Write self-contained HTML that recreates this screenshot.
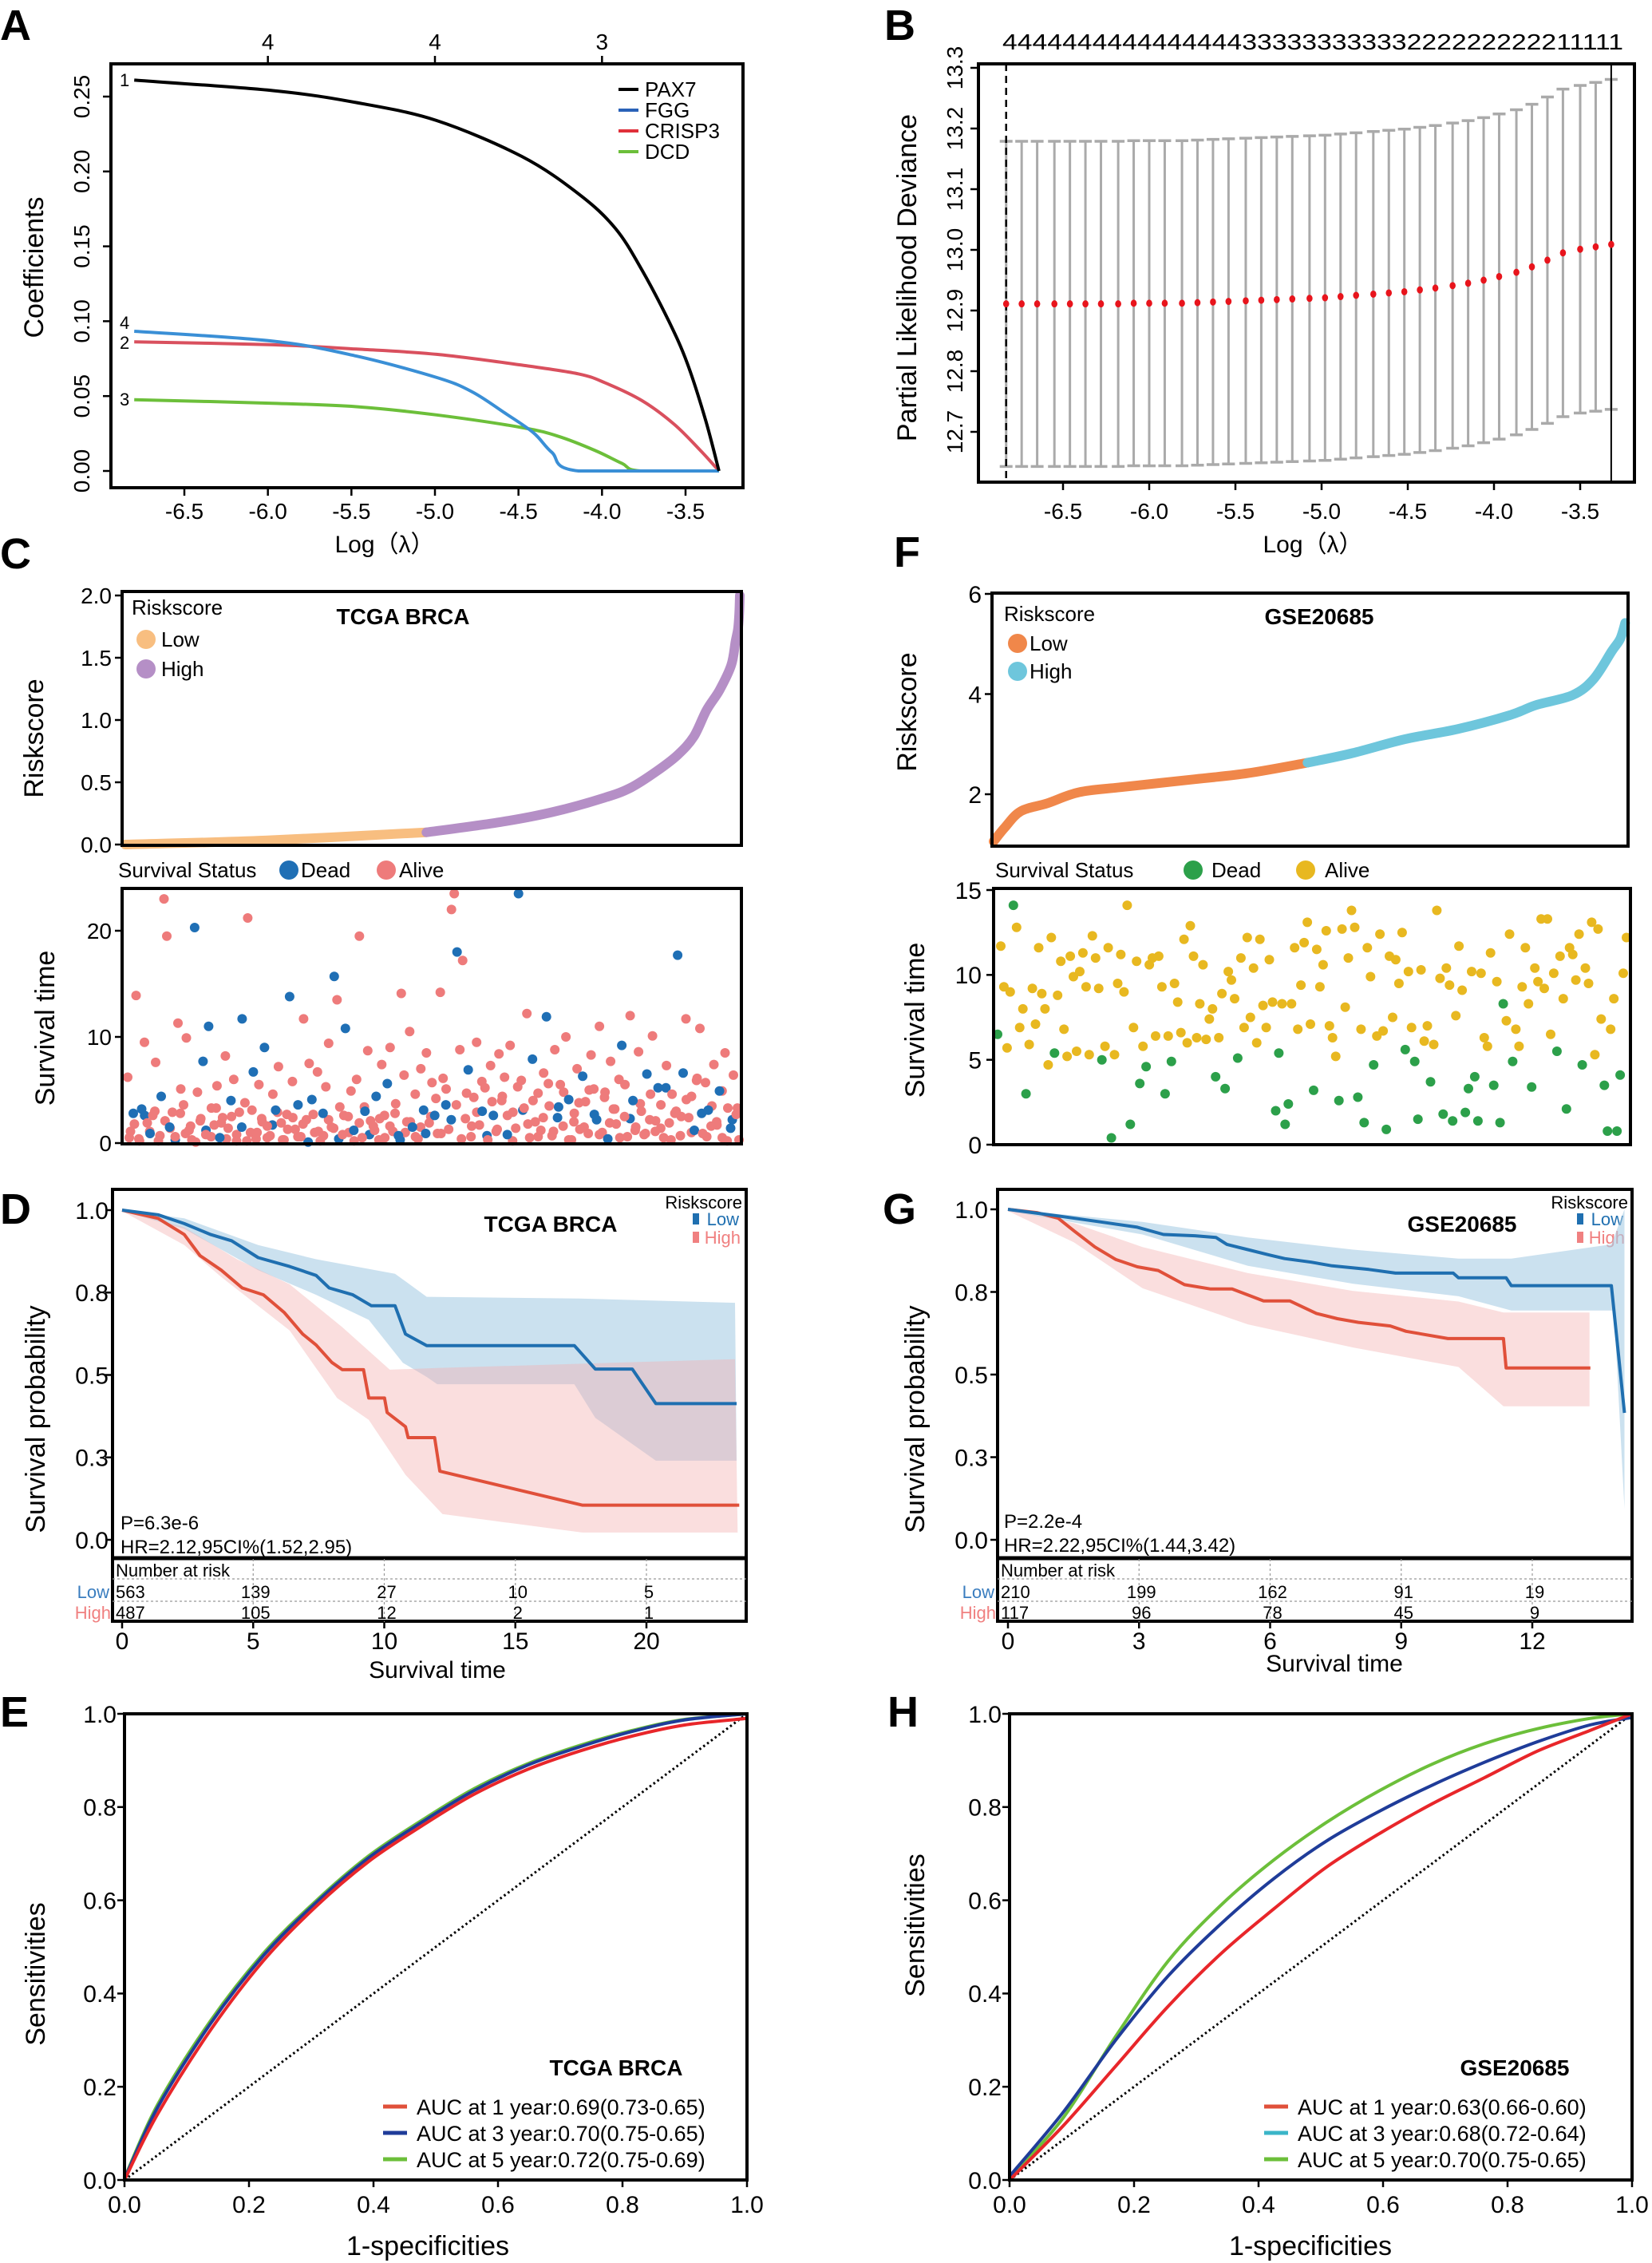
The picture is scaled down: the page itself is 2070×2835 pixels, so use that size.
<!DOCTYPE html>
<html><head><meta charset="utf-8">
<style>
html,body{margin:0;padding:0;background:#fff;}
svg{display:block;font-family:"Liberation Sans",Arial,sans-serif;}
</style></head>
<body>
<svg id="fig" xmlns="http://www.w3.org/2000/svg" width="2070" height="2835" viewBox="0 0 2070 2835">
<rect x="0" y="0" width="2070" height="2835" fill="#fff"/>
<text x="0" y="50" font-size="54" font-weight="bold">A</text>
<text x="1108" y="50" font-size="54" font-weight="bold">B</text>
<text x="0" y="712" font-size="54" font-weight="bold">C</text>
<text x="1120" y="710" font-size="54" font-weight="bold">F</text>
<text x="0" y="1533" font-size="54" font-weight="bold">D</text>
<text x="1106" y="1533" font-size="54" font-weight="bold">G</text>
<text x="0" y="2163" font-size="54" font-weight="bold">E</text>
<text x="1112" y="2163" font-size="54" font-weight="bold">H</text>

<text transform="translate(54,335) rotate(-90)" text-anchor="middle" font-size="34">Coefficients</text>
<text x="482" y="692" text-anchor="middle" font-size="30">Log（λ）</text>
<g font-size="26">
<line x1="775" y1="112" x2="800" y2="112" stroke="#000" stroke-width="4"/>
<text x="808" y="121">PAX7</text>
<line x1="775" y1="138" x2="800" y2="138" stroke="#2a62b8" stroke-width="4"/>
<text x="808" y="147">FGG</text>
<line x1="775" y1="164" x2="800" y2="164" stroke="#e0303a" stroke-width="4"/>
<text x="808" y="173">CRISP3</text>
<line x1="775" y1="190" x2="800" y2="190" stroke="#6cbf3a" stroke-width="4"/>
<text x="808" y="199">DCD</text>
</g>
<g font-size="22">
<text x="150" y="108">1</text>
<text x="150" y="412">4</text>
<text x="150" y="437">2</text>
<text x="150" y="508">3</text>
</g>

<text transform="translate(1148,348) rotate(-90)" text-anchor="middle" font-size="34">Partial Likelihood Deviance</text>
<text x="1645" y="692" text-anchor="middle" font-size="30">Log（λ）</text>
<text x="1256" y="62" font-size="28" textLength="778" lengthAdjust="spacingAndGlyphs">444444444444444433333333333222222222211111</text>

<text transform="translate(54,925) rotate(-90)" text-anchor="middle" font-size="34">Riskscore</text>
<text transform="translate(68,1288) rotate(-90)" text-anchor="middle" font-size="34">Survival time</text>
<text x="505" y="782" text-anchor="middle" font-size="28" font-weight="bold">TCGA BRCA</text>
<text x="165" y="770" font-size="26">Riskscore</text>
<circle cx="183" cy="801" r="12" fill="#f8be80"/>
<text x="202" y="810" font-size="26">Low</text>
<circle cx="183" cy="838" r="12" fill="#b58fc6"/>
<text x="202" y="847" font-size="26">High</text>
<text x="148" y="1099" font-size="26">Survival Status</text>
<circle cx="362" cy="1090" r="12" fill="#1f6fb5"/>
<text x="377" y="1099" font-size="26">Dead</text>
<circle cx="484" cy="1090" r="12" fill="#ee7b7b"/>
<text x="500" y="1099" font-size="26">Alive</text>

<text transform="translate(1148,892) rotate(-90)" text-anchor="middle" font-size="34">Riskscore</text>
<text transform="translate(1158,1278) rotate(-90)" text-anchor="middle" font-size="34">Survival time</text>
<text x="1653" y="782" text-anchor="middle" font-size="28" font-weight="bold">GSE20685</text>
<text x="1258" y="778" font-size="26">Riskscore</text>
<circle cx="1275" cy="806" r="12" fill="#f0874a"/>
<text x="1290" y="815" font-size="26">Low</text>
<circle cx="1275" cy="841" r="12" fill="#6ec6dc"/>
<text x="1290" y="850" font-size="26">High</text>
<text x="1247" y="1099" font-size="26">Survival Status</text>
<circle cx="1495" cy="1090" r="12" fill="#2ca04a"/>
<text x="1518" y="1099" font-size="26">Dead</text>
<circle cx="1636" cy="1090" r="12" fill="#e8b820"/>
<text x="1660" y="1099" font-size="26">Alive</text>

<text transform="translate(56,1778) rotate(-90)" text-anchor="middle" font-size="34">Survival probability</text>
<text x="690" y="1543" text-anchor="middle" font-size="28" font-weight="bold">TCGA BRCA</text>
<text x="930" y="1514" text-anchor="end" font-size="22">Riskscore</text>
<rect x="868" y="1520" width="8" height="14" fill="#1f6fb0"/>
<text x="926" y="1535" text-anchor="end" font-size="22" fill="#1f6fb0">Low</text>
<rect x="868" y="1543" width="8" height="14" fill="#f08080"/>
<text x="928" y="1558" text-anchor="end" font-size="22" fill="#f08080">High</text>
<text x="151" y="1916" font-size="24">P=6.3e-6</text>
<text x="151" y="1946" font-size="24">HR=2.12,95CI%(1.52,2.95)</text>
<text x="145" y="1975" font-size="22">Number at risk</text>
<text x="137" y="2002" text-anchor="end" font-size="22" fill="#3a7dbf">Low</text>
<text x="139" y="2028" text-anchor="end" font-size="22" fill="#f08080">High</text>
<text x="548" y="2102" text-anchor="middle" font-size="30">Survival time</text>

<text transform="translate(1158,1778) rotate(-90)" text-anchor="middle" font-size="34">Survival probability</text>
<text x="1832" y="1543" text-anchor="middle" font-size="28" font-weight="bold">GSE20685</text>
<text x="2040" y="1514" text-anchor="end" font-size="22">Riskscore</text>
<rect x="1976" y="1520" width="8" height="14" fill="#1f6fb0"/>
<text x="2034" y="1535" text-anchor="end" font-size="22" fill="#1f6fb0">Low</text>
<rect x="1976" y="1543" width="8" height="14" fill="#f08080"/>
<text x="2036" y="1558" text-anchor="end" font-size="22" fill="#f08080">High</text>
<text x="1258" y="1914" font-size="24">P=2.2e-4</text>
<text x="1258" y="1944" font-size="24">HR=2.22,95CI%(1.44,3.42)</text>
<text x="1254" y="1975" font-size="22">Number at risk</text>
<text x="1246" y="2002" text-anchor="end" font-size="22" fill="#3a7dbf">Low</text>
<text x="1248" y="2028" text-anchor="end" font-size="22" fill="#f08080">High</text>
<text x="1672" y="2094" text-anchor="middle" font-size="30">Survival time</text>

<text transform="translate(56,2473) rotate(-90)" text-anchor="middle" font-size="34">Sensitivities</text>
<text x="536" y="2825" text-anchor="middle" font-size="34">1-specificities</text>
<text x="772" y="2600" text-anchor="middle" font-size="28" font-weight="bold">TCGA BRCA</text>
<text transform="translate(1158,2412) rotate(-90)" text-anchor="middle" font-size="34">Sensitivities</text>
<text x="1642" y="2825" text-anchor="middle" font-size="34">1-specificities</text>
<text x="1898" y="2600" text-anchor="middle" font-size="28" font-weight="bold">GSE20685</text>
</svg>

<script>
const aPax7Lam = [-6.80,-5.97,-5.47,-4.99,-4.48,-4.14,-3.92,-3.76,-3.60,-3.49,-3.38,-3.30];
const aPax7Coef = [0.261,0.254,0.246,0.234,0.210,0.185,0.162,0.134,0.100,0.072,0.034,0.0];
const aFggLam = [-6.80,-5.97,-5.47,-4.99,-4.78,-4.58,-4.41,-4.30,-4.14,-3.30];
const aFggCoef = [0.0933,0.0867,0.0767,0.0624,0.053,0.0386,0.0255,0.0124,0.0,0.0];
const aCrispLam = [-6.80,-5.97,-5.47,-4.99,-4.48,-4.14,-3.98,-3.76,-3.57,-3.41,-3.30];
const aCrispCoef = [0.0862,0.0843,0.0814,0.0779,0.0707,0.0648,0.0588,0.0469,0.0314,0.0136,0.0];
const aDcdLam = [-6.80,-5.97,-5.47,-4.99,-4.48,-4.26,-4.04,-3.88,-3.77,-3.30];
const aDcdCoef = [0.0476,0.0452,0.0429,0.0374,0.029,0.0231,0.0136,0.005,0.0,0.0];
const aXTicks = [-6.5,-6.0,-5.5,-5.0,-4.5,-4.0,-3.5];
const aXTickLabels = ['-6.5','-6.0','-5.5','-5.0','-4.5','-4.0','-3.5'];
const aYTicks = [0,0.05,0.10,0.15,0.20,0.25];
const aYTickLabels = ['0.00','0.05','0.10','0.15','0.20','0.25'];
const aTopTicks = [-6.0,-5.0,-4.0];
const aTopLabels = ['4','4','3'];

const bLambda = [-6.83,-6.74,-6.65,-6.55,-6.46,-6.37,-6.28,-6.18,-6.09,-6.00,-5.91,-5.81,-5.72,-5.63,-5.54,-5.44,-5.35,-5.26,-5.17,-5.07,-4.98,-4.89,-4.80,-4.70,-4.61,-4.52,-4.43,-4.34,-4.24,-4.15,-4.06,-3.97,-3.87,-3.78,-3.69,-3.60,-3.50,-3.41,-3.32];
const bMean = [12.911,12.911,12.911,12.911,12.911,12.911,12.911,12.911,12.912,12.912,12.912,12.912,12.913,12.914,12.915,12.916,12.917,12.918,12.919,12.920,12.921,12.923,12.925,12.927,12.929,12.931,12.934,12.937,12.941,12.945,12.950,12.956,12.963,12.972,12.983,12.995,13.001,13.005,13.009];
const bSE = [0.268,0.268,0.268,0.268,0.268,0.268,0.268,0.268,0.268,0.268,0.268,0.268,0.268,0.268,0.268,0.268,0.268,0.268,0.268,0.268,0.268,0.268,0.268,0.268,0.268,0.268,0.268,0.268,0.268,0.268,0.268,0.268,0.268,0.268,0.269,0.270,0.270,0.271,0.272];
const bLambdaMin = -6.83;
const bLambda1se = -3.32;
const bXTicks = [-6.5,-6.0,-5.5,-5.0,-4.5,-4.0,-3.5];
const bXTickLabels = ['-6.5','-6.0','-5.5','-5.0','-4.5','-4.0','-3.5'];
const bYTicks = [12.7,12.8,12.9,13.0,13.1,13.2,13.3];
const bYTickLabels = ['12.7','12.8','12.9','13.0','13.1','13.2','13.3'];

const cRank = [0,0.228,0.49,0.61,0.695,0.78,0.823,0.865,0.899,0.925,0.946,0.967,0.986,0.993,0.997,0.999,1.0];
const cScore = [0,0.033,0.098,0.18,0.26,0.376,0.458,0.59,0.72,0.866,1.08,1.24,1.44,1.63,1.73,1.85,2.0];
const cCutRank = 0.49;
const cRiskTicks = [0,0.5,1.0,1.5,2.0];
const cRiskTickLabels = ['0.0','0.5','1.0','1.5','2.0'];
const cTimes = [6.2,1.1,2.8,13.9,0.4,3.2,9.5,1.9,0.9,2.6,7.6,0.2,4.4,23.0,19.5,1.5,2.9,0.6,11.3,5.1,
3.6,9.9,1.2,0.3,20.3,4.8,2.1,7.7,0.8,11.0,3.3,1.7,5.4,0.5,2.4,8.2,1.4,4.0,6.0,0.2,
2.9,11.7,3.8,21.2,1.0,6.7,0.4,5.5,2.3,9.0,1.6,0.7,4.6,3.1,7.2,1.9,0.3,2.7,13.8,5.8,
1.3,3.6,0.6,11.7,2.2,7.5,4.1,1.0,6.7,0.2,2.8,5.3,9.4,1.5,15.7,13.5,3.4,0.8,10.8,2.5,
4.9,1.2,6.0,19.5,0.5,3.0,8.7,2.1,1.6,4.4,0.3,7.4,2.6,5.6,9.0,1.1,3.7,0.7,14.1,6.4,
2.0,10.5,1.5,4.6,0.4,7.0,3.1,8.5,1.9,5.7,2.6,0.9,14.2,6.1,3.6,1.3,22.0,23.5,18.0,8.8,
17.2,2.3,6.9,0.6,4.3,9.5,1.7,3.0,5.2,0.3,7.3,2.6,1.1,8.4,4.0,6.2,0.8,9.2,2.9,1.4,
23.5,5.9,3.3,12.2,0.5,7.9,2.0,4.7,1.2,6.6,11.9,3.5,0.7,8.8,2.4,5.5,1.6,10.0,4.1,0.3,
2.8,7.0,1.3,6.3,3.9,0.9,8.3,5.1,2.2,11.0,1.0,4.8,0.4,7.7,3.2,1.8,6.0,9.2,2.5,0.6,
12.0,4.0,1.5,8.6,3.0,0.8,6.5,2.2,10.1,1.1,5.2,3.6,0.5,7.3,1.9,4.6,2.8,17.7,0.7,6.6,
11.7,2.4,4.4,1.2,6.1,10.8,0.9,5.7,3.1,1.6,7.4,2.0,4.9,0.5,8.5,3.3,1.4,6.4,2.7,0.3];
const cDead = [2,5,8,12,15,24,27,29,33,37,41,45,49,53,58,61,66,70,74,78,81,85,89,93,97,102,106,110,114,118,122,127,131,136,140,145,150,154,158,163,168,172,177,181,186,190,197,199,203,208,212,216];
const cBandTimes = [0.5,1.8,0.2,2.6,1.1,3.0,0.7,2.1,1.4,0.3,2.8,0.9,1.6,0.1,2.3,1.2,0.6,3.3,1.9,0.4,
2.5,0.8,1.5,0.2,3.1,1.0,2.0,0.5,1.7,2.9,0.3,1.3,2.4,0.6,1.8,0.1,2.7,1.1,0.7,2.2,
1.4,0.4,2.6,1.0,0.2,1.9,3.4,0.8,1.2,2.3,0.5,1.6,2.8,0.3,1.0,2.0,0.6,1.5,0.9,2.5,
4.2,0.9,5.1,2.2,3.6,0.4,4.7,1.6,2.9,5.8,0.7,3.9,1.3,4.4,2.6,0.2,5.3,3.1,1.8,4.0,
0.6,2.4,5.6,1.1,3.4,4.8,0.3,2.0,3.8,1.5,5.0,2.7,0.8,4.3,1.9,3.2,0.5,5.5,2.3,1.2,
3.7,0.9,4.6,2.1,1.4,5.2,0.3,3.0,2.5,4.1,1.0,5.9,2.8,0.6,3.5,1.7,4.9,0.2,2.2,3.3];
const cBandDead = [3,9,15,22,28,35,41,47,53,58,63,70,77,84,91,98,105,112,118];
const cSurvTicks = [0,10,20];
const cSurvTickLabels = ['0','10','20'];

const fRank = [0,0.018,0.043,0.085,0.135,0.201,0.318,0.402,0.496,0.567,0.65,0.733,0.816,0.857,0.915,0.948,0.977,0.99,0.998];
const fScore = [1.06,1.34,1.66,1.82,2.04,2.14,2.30,2.42,2.63,2.82,3.10,3.30,3.58,3.78,3.98,4.30,4.86,5.10,5.42];
const fCutRank = 0.496;
const fRiskTicks = [2,4,6];
const fRiskTickLabels = ['2','4','6'];
const fTimes = [6.5,11.7,9.3,5.7,9.0,14.1,12.8,6.9,8.0,3.0,5.9,9.2,7.1,11.6,8.9,8.0,4.7,12.2,5.4,8.8,
10.8,6.8,5.2,11.1,9.9,5.5,10.2,11.3,9.3,5.3,12.3,11.0,9.2,5.0,5.8,11.6,0.4,5.3,9.5,11.2,
9.0,14.1,1.2,6.9,10.8,3.6,5.8,4.6,10.6,11.0,6.4,11.1,9.3,3.0,6.4,4.9,9.5,8.4,6.6,12.1,
6.0,12.9,11.1,6.3,8.3,10.6,6.2,7.4,8.0,4.0,6.3,8.9,3.3,10.2,9.7,8.6,5.1,11.0,6.9,12.2,
7.5,10.4,6.0,12.1,8.2,6.9,10.9,8.4,2.0,5.4,8.3,1.2,2.4,8.3,11.6,6.8,9.4,11.9,13.1,7.1,
3.2,11.5,9.3,10.6,12.6,7.0,6.3,5.2,2.6,12.7,8.1,11.0,13.8,12.8,2.8,6.8,1.3,11.6,9.9,4.7,
6.4,12.4,6.7,0.9,11.1,7.5,10.9,9.5,12.5,5.6,10.2,6.9,4.9,1.5,10.3,6.1,7.0,3.7,5.9,13.8,
9.8,1.8,10.4,9.4,1.4,7.6,11.7,9.1,1.9,3.3,10.2,4.0,1.4,10.1,6.3,5.8,11.3,3.5,9.6,1.3,
8.3,7.3,12.4,4.9,6.8,5.8,9.3,11.6,8.3,3.4,10.4,9.6,13.3,9.2,13.3,6.5,10.1,5.5,11.1,8.6,
2.1,11.6,11.2,9.7,12.4,4.7,10.4,9.5,13.1,5.3,12.7,7.4,3.5,0.8,6.8,8.6,0.8,4.1,10.1,12.2];
const fDead = [0,5,9,18,33,36,42,45,47,53,55,69,72,76,88,89,91,92,100,108,114,116,119,123,129,132,133,137,141,144,148,149,151,152,157,159,160,163,169,177,180,185,192,193,196,197];
const fSurvTicks = [0,5,10,15];
const fSurvTickLabels = ['0','5','10','15'];

const dLowT = [0,1.37,2.37,3.38,4.18,5.19,6.39,7.40,7.90,8.80,9.51,10.41,10.81,11.62,17.25,18.05,19.46,20.36,23.44];
const dLowS = [1.0,0.986,0.959,0.926,0.907,0.856,0.829,0.802,0.764,0.743,0.71,0.71,0.624,0.589,0.589,0.518,0.518,0.413,0.413];
const dHighT = [0,1.37,2.37,2.97,3.78,4.58,5.39,6.19,6.89,7.40,8.0,8.40,9.21,9.41,10.01,10.11,10.81,10.91,11.92,12.12,17.55,23.54];
const dHighS = [1.0,0.975,0.926,0.862,0.818,0.764,0.743,0.689,0.624,0.591,0.538,0.516,0.516,0.43,0.43,0.386,0.343,0.31,0.31,0.208,0.105,0.105];
const dLowUpT = [0,2.37,5.19,7.40,10.41,11.62,17.45,23.38];
const dLowUp = [1.0,0.975,0.894,0.851,0.807,0.737,0.732,0.719];
const dLowLoT = [0,2.37,5.19,7.40,9.41,10.71,11.62,12.02,17.25,18.05,20.36,23.44];
const dLowLo = [0.997,0.943,0.818,0.743,0.667,0.537,0.494,0.472,0.472,0.37,0.24,0.24];
const dHighUpT = [0,2.37,4.38,6.39,8.40,10.21,12.02,23.38];
const dHighUp = [1.0,0.948,0.851,0.775,0.645,0.516,0.521,0.548];
const dHighLoT = [0,2.37,3.78,6.39,8.20,9.41,10.81,12.22,17.55,23.48];
const dHighLo = [0.997,0.894,0.797,0.635,0.43,0.364,0.197,0.078,0.022,0.022];
const dXTicks = [0,5,10,15,20];
const dXTickLabels = ['0','5','10','15','20'];
const dRiskLow = [563,139,27,10,5];
const dRiskHigh = [487,105,12,2,1];
const kmYTicks = [0,0.25,0.5,0.75,1.0];
const kmYTickLabels = ['0.0','0.3','0.5','0.8','1.0'];

const gLowT = [0,1.15,2.11,2.96,3.56,4.28,4.76,5.01,5.49,5.97,6.33,6.94,7.42,8.26,8.87,10.19,10.31,11.40,11.52,13.81,14.11];
const gLowS = [1.0,0.98,0.962,0.946,0.924,0.92,0.915,0.894,0.878,0.862,0.851,0.84,0.829,0.818,0.807,0.807,0.793,0.793,0.769,0.769,0.384];
const gHighT = [0,0.66,1.15,1.51,1.99,2.47,2.96,3.44,4.04,4.64,5.13,5.85,6.45,7.06,7.54,8.02,8.75,9.11,10.07,11.34,11.40,13.33];
const gHighS = [1.0,0.99,0.973,0.935,0.886,0.848,0.826,0.815,0.772,0.759,0.759,0.723,0.723,0.685,0.669,0.658,0.647,0.631,0.609,0.609,0.52,0.52];
const gLowUpT = [0,3.08,5.49,7.90,10.31,11.52,13.81,14.11];
const gLowUp = [1.0,0.962,0.915,0.878,0.851,0.851,0.894,1.0];
const gLowLoT = [0,3.08,5.49,7.90,10.31,11.52,13.87,14.11];
const gLowLo = [0.995,0.924,0.829,0.775,0.737,0.694,0.694,0.094];
const gHighBandT = [0,1.51,3.08,5.49,7.90,10.31,11.34,13.31];
const gHighUp = [1.0,0.958,0.886,0.807,0.753,0.721,0.688,0.688];
const gHighLo = [0.995,0.9,0.761,0.652,0.582,0.523,0.404,0.404];
const gXTicks = [0,3,6,9,12];
const gXTickLabels = ['0','3','6','9','12'];
const gRiskLow = [210,199,162,91,19];
const gRiskHigh = [117,96,78,45,9];

const rocTicks = [0,0.2,0.4,0.6,0.8,1.0];
const rocTickLabels = ['0.0','0.2','0.4','0.6','0.8','1.0'];
const eFpr = [0,0.053,0.138,0.223,0.307,0.392,0.477,0.561,0.646,0.731,0.815,0.9,1];
const eTpr1 = [0,0.141,0.321,0.47,0.586,0.683,0.759,0.827,0.88,0.92,0.952,0.976,0.99];
const eTpr3 = [0.002,0.155,0.335,0.481,0.594,0.691,0.767,0.835,0.889,0.929,0.962,0.987,1];
const eTpr5 = [0.004,0.161,0.341,0.486,0.598,0.695,0.771,0.839,0.892,0.932,0.964,0.988,1];
const eLegend = ['AUC at 1 year:0.69(0.73-0.65)','AUC at 3 year:0.70(0.75-0.65)','AUC at 5 year:0.72(0.75-0.69)'];
const hFpr = [0,0.086,0.171,0.255,0.34,0.425,0.509,0.594,0.679,0.763,0.848,0.932,1];
const hTpr1 = [0,0.116,0.245,0.373,0.486,0.582,0.671,0.743,0.807,0.863,0.92,0.964,1];
const hTpr3 = [0.008,0.145,0.301,0.438,0.55,0.647,0.727,0.791,0.847,0.896,0.94,0.976,0.992];
const hTpr5 = [0.004,0.133,0.309,0.47,0.59,0.687,0.767,0.835,0.892,0.936,0.968,0.99,1];
const hLegend = ['AUC at 1 year:0.63(0.66-0.60)','AUC at 3 year:0.68(0.72-0.64)','AUC at 5 year:0.70(0.75-0.65)'];

const NS = 'http://www.w3.org/2000/svg';
const svg = document.getElementById('fig');
function mk(tag, a) { const e = document.createElementNS(NS, tag); for (const k in a) e.setAttribute(k, a[k]); svg.appendChild(e); return e; }
function tx(s, a) { const e = mk('text', a); e.textContent = s; return e; }
function lin(d0, d1, r0, r1) { return v => r0 + (v - d0) * (r1 - r0) / (d1 - d0); }
function pts(xs, ys, sx, sy) { return xs.map((x, i) => sx(x).toFixed(1) + ',' + sy(ys[i]).toFixed(1)).join(' '); }
function clamp(v, a, b) { const lo = Math.min(a, b), hi = Math.max(a, b); return Math.max(lo, Math.min(hi, v)); }
function smooth(xs, ys, sx, sy) {
  const P = xs.map((x, i) => [sx(x), sy(ys[i])]);
  let d = 'M' + P[0][0].toFixed(1) + ',' + P[0][1].toFixed(1);
  for (let i = 0; i < P.length - 1; i++) {
    const p0 = P[Math.max(i - 1, 0)], p1 = P[i], p2 = P[i + 1], p3 = P[Math.min(i + 2, P.length - 1)];
    const c1 = [p1[0] + (p2[0] - p0[0]) / 6, clamp(p1[1] + (p2[1] - p0[1]) / 6, p1[1], p2[1])];
    const c2 = [p2[0] - (p3[0] - p1[0]) / 6, clamp(p2[1] - (p3[1] - p1[1]) / 6, p1[1], p2[1])];
    d += 'C' + c1[0].toFixed(1) + ',' + c1[1].toFixed(1) + ' ' + c2[0].toFixed(1) + ',' + c2[1].toFixed(1) + ' ' + p2[0].toFixed(1) + ',' + p2[1].toFixed(1);
  }
  return d;
}
function box(name, x, y, w, h, sw) {
  const r = mk('rect', {x: x, y: y, width: w, height: h, fill: 'none', stroke: '#000', 'stroke-width': sw});
  
  
  return r;
}
function xAxis(name, ticks, labels, sx, y, len, ly, fs) {
  ticks.forEach((t, i) => {
    const l = mk('line', {x1: sx(t), x2: sx(t), y1: y, y2: y + len, stroke: '#000', 'stroke-width': 2.5});
    
    
    const s = tx(labels[i], {x: sx(t), y: ly, 'text-anchor': 'middle', 'font-size': fs});
    
    
  });
}
function yAxis(name, ticks, labels, sy, x, len, lx, fs, rot) {
  ticks.forEach((t, i) => {
    const l = mk('line', {x1: x, x2: x - len, y1: sy(t), y2: sy(t), stroke: '#000', 'stroke-width': 2.5});
    
    
    let s;
    if (rot) s = tx(labels[i], {transform: 'translate(' + lx + ',' + sy(t) + ') rotate(-90)', 'text-anchor': 'middle', 'font-size': fs});
    else s = tx(labels[i], {x: lx, y: sy(t) + fs * 0.36, 'text-anchor': 'end', 'font-size': fs});
    
    
  });
}

{
  const sx = lin(-6.5, -3.5, 231, 859), sy = lin(0, 0.25, 590, 121);
  xAxis('a-x-axis', aXTicks, aXTickLabels, sx, 611, 10, 650, 28);
  yAxis('a-y-axis', aYTicks, aYTickLabels, sy, 139, 10, 112, 28, true);
  aTopTicks.forEach((t, i) => {
    const l = mk('line', {x1: sx(t), x2: sx(t), y1: 80, y2: 70, stroke: '#000', 'stroke-width': 2.5});
    
    
    const s = tx(aTopLabels[i], {x: sx(t), y: 62, 'text-anchor': 'middle', 'font-size': 28});
    
    
  });
  const series = [[aDcdLam, aDcdCoef, '#6cbf3a', 'dcd'], [aCrispLam, aCrispCoef, '#d9505e', 'crisp3'], [aFggLam, aFggCoef, '#3a8fd6', 'fgg'], [aPax7Lam, aPax7Coef, '#000', 'pax7']];
  series.forEach(s => {
    const p = mk('path', {d: smooth(s[0], s[1], sx, sy), fill: 'none', stroke: s[2], 'stroke-width': 4, 'stroke-linejoin': 'round'});
    
    
  });
  box('a-plot-frame', 139, 80, 792, 531, 4);
}

{
  const sx = lin(-6.5, -3.5, 1332, 1980), sy = lin(12.7, 13.3, 541, 85);
  xAxis('b-x-axis', bXTicks, bXTickLabels, sx, 604, 10, 650, 28);
  yAxis('b-y-axis', bYTicks, bYTickLabels, sy, 1226, 10, 1206, 28, true);
  bLambda.forEach((l, i) => {
    const x = sx(l), yu = sy(bMean[i] + bSE[i]), yl = sy(bMean[i] - bSE[i]);
    const v = mk('line', {x1: x, x2: x, y1: yu, y2: yl, stroke: '#aaa', 'stroke-width': 3});
    
    
    const c1 = mk('line', {x1: x - 8, x2: x + 8, y1: yu, y2: yu, stroke: '#aaa', 'stroke-width': 3.5});
    
    
    const c2 = mk('line', {x1: x - 8, x2: x + 8, y1: yl, y2: yl, stroke: '#aaa', 'stroke-width': 3.5});
    
    
  });
  const vm = mk('line', {x1: sx(bLambdaMin), x2: sx(bLambdaMin), y1: 80, y2: 604, stroke: '#000', 'stroke-width': 2.5, 'stroke-dasharray': '9,6'});
  
  
  const v1 = mk('line', {x1: sx(bLambda1se), x2: sx(bLambda1se), y1: 80, y2: 604, stroke: '#000', 'stroke-width': 2});
  
  
  bLambda.forEach((l, i) => {
    const c = mk('ellipse', {cx: sx(l), cy: sy(bMean[i]), rx: 3.8, ry: 4.5, fill: '#e8141c'});
    
    
  });
  box('b-plot-frame', 1226, 80, 822, 524, 4);
}

function riskCurve(prefix, ranks, scores, cut, sx, sy, cLow, cHigh) {
  let lo = [[], []], hi = [[], []];
  ranks.forEach((r, i) => {
    if (r <= cut) { lo[0].push(r); lo[1].push(scores[i]); }
    if (r >= cut || i === ranks.length - 1) { hi[0].push(r); hi[1].push(scores[i]); }
  });
  if (hi[0][0] !== lo[0][lo[0].length - 1]) { hi[0].unshift(lo[0][lo[0].length - 1]); hi[1].unshift(lo[1][lo[1].length - 1]); }
  const p1 = mk('path', {d: smooth(lo[0], lo[1], sx, sy), fill: 'none', stroke: cLow, 'stroke-width': 12, 'stroke-linecap': 'round', 'stroke-linejoin': 'round'});
  
  
  const p2 = mk('path', {d: smooth(hi[0], hi[1], sx, sy), fill: 'none', stroke: cHigh, 'stroke-width': 12, 'stroke-linecap': 'round', 'stroke-linejoin': 'round'});
  
  
}
function scatter(prefix, times, dead, x0, x1, sy, cAlive, cDeadC, r) {
  const n = times.length;
  const ds = new Set(dead);
  times.forEach((t, i) => {
    const x = x0 + (x1 - x0) * i / (n - 1);
    const c = mk('circle', {cx: x.toFixed(1), cy: sy(t).toFixed(1), r: r, fill: ds.has(i) ? cDeadC : cAlive});
    
    
  });
}
{
  const sx = lin(0, 1, 157, 927), sy = lin(0, 2, 1058, 746);
  yAxis('c-risk-y-axis', cRiskTicks, cRiskTickLabels, sy, 153, 9, 140, 28, false);
  riskCurve('c', cRank, cScore, cCutRank, sx, sy, '#f8be80', '#b58fc6');
  box('c-risk-frame', 153, 741, 776, 318, 4);
  const sy2 = lin(0, 20, 1432, 1166);
  yAxis('c-surv-y-axis', cSurvTicks, cSurvTickLabels, sy2, 153, 9, 140, 28, false);
  scatter('c-band', cBandTimes, cBandDead, 162, 924, sy2, '#ee7b7b', '#1f6fb5', 6);
  scatter('c', cTimes, cDead, 160, 926, sy2, '#ee7b7b', '#1f6fb5', 6);
  box('c-surv-frame', 153, 1113, 776, 320, 4);
}

{
  const sx = lin(0, 1, 1245, 2038), sy = lin(2, 6, 995, 744);
  yAxis('f-risk-y-axis', fRiskTicks, fRiskTickLabels, sy, 1243, 9, 1230, 30, false);
  riskCurve('f', fRank, fScore, fCutRank, sx, sy, '#f0874a', '#6ec6dc');
  box('f-risk-frame', 1243, 743, 797, 317, 4);
  const sy2 = lin(0, 15, 1434, 1115);
  yAxis('f-surv-y-axis', fSurvTicks, fSurvTickLabels, sy2, 1245, 9, 1230, 30, false);
  scatter('f', fTimes, fDead, 1250, 2038, sy2, '#e8b820', '#2ca04a', 6);
  box('f-surv-frame', 1245, 1113, 798, 321, 4);
}

function band(name, tu, u, tl, l, sx, sy, fill, op) {
  const up = tu.map((t, i) => sx(t).toFixed(1) + ',' + sy(u[i]).toFixed(1));
  const lo = tl.map((t, i) => sx(t).toFixed(1) + ',' + sy(l[i]).toFixed(1)).reverse();
  const p = mk('polygon', {points: up.concat(lo).join(' '), fill: fill, 'fill-opacity': op, stroke: 'none'});
  
  
}
function kmLine(name, t, s, sx, sy, col) {
  const p = mk('polyline', {points: pts(t, s, sx, sy), fill: 'none', stroke: col, 'stroke-width': 4, 'stroke-linejoin': 'round'});
  
  
}
function riskTable(prefix, ticks, low, high, sx, x0, x1) {
  [1978, 2006].forEach(y => {
    const l = mk('line', {x1: x0, x2: x1, y1: y, y2: y, stroke: '#999', 'stroke-width': 1.2, 'stroke-dasharray': '3,3'});
    
    
  });
  ticks.forEach((t, i) => {
    if (i > 0) {
      const v = mk('line', {x1: sx(t), x2: sx(t), y1: 1953, y2: 2032, stroke: '#999', 'stroke-width': 1.2, 'stroke-dasharray': '3,3'});
      
      
    }
    const a = i === 0 ? {x: x0 + 4, 'text-anchor': 'start'} : {x: sx(t) + 3, 'text-anchor': 'middle'};
    const s1 = tx(String(low[i]), Object.assign({y: 2002, 'font-size': 22}, a));
    
    
    const s2 = tx(String(high[i]), Object.assign({y: 2028, 'font-size': 22}, a));
    
    
  });
}
{
  const sx = lin(0, 20, 153, 810), sy = lin(0, 1, 1929, 1516);
  band('d-low-ci-band', dLowUpT, dLowUp, dLowLoT, dLowLo, sx, sy, '#a9cde4', 0.6);
  band('d-high-ci-band', dHighUpT, dHighUp, dHighLoT, dHighLo, sx, sy, '#f4b0b0', 0.42);
  kmLine('d-km-high-curve', dHighT, dHighS, sx, sy, '#e0503a');
  kmLine('d-km-low-curve', dLowT, dLowS, sx, sy, '#1f6fb0');
  yAxis('d-y-axis', kmYTicks, kmYTickLabels, sy, 141, 9, 136, 30, false);
  box('d-plot-frame', 141, 1490, 794, 541, 4);
  const sep = mk('line', {x1: 141, x2: 935, y1: 1952, y2: 1952, stroke: '#000', 'stroke-width': 5});
  
  
  riskTable('d', dXTicks, dRiskLow, dRiskHigh, sx, 141, 935);
  xAxis('d-x-axis', dXTicks, dXTickLabels, sx, 2032, 8, 2066, 30);
}
{
  const sx = lin(0, 12, 1263, 1920), sy = lin(0, 1, 1929, 1515);
  band('g-low-ci-band', gLowUpT, gLowUp, gLowLoT, gLowLo, sx, sy, '#a9cde4', 0.6);
  band('g-high-ci-band', gHighBandT, gHighUp, gHighBandT, gHighLo, sx, sy, '#f4b0b0', 0.42);
  kmLine('g-km-high-curve', gHighT, gHighS, sx, sy, '#e0503a');
  kmLine('g-km-low-curve', gLowT, gLowS, sx, sy, '#1f6fb0');
  yAxis('g-y-axis', kmYTicks, kmYTickLabels, sy, 1250, 9, 1238, 30, false);
  box('g-plot-frame', 1250, 1490, 795, 541, 4);
  const sep = mk('line', {x1: 1250, x2: 2045, y1: 1952, y2: 1952, stroke: '#000', 'stroke-width': 5});
  
  
  riskTable('g', gXTicks, gRiskLow, gRiskHigh, sx, 1250, 2045);
  xAxis('g-x-axis', gXTicks, gXTickLabels, sx, 2032, 8, 2066, 30);
}

function roc(prefix, x0, x1, fpr, tprs, cols, legCols, legTexts, lx) {
  const sx = lin(0, 1, x0, x1), sy = lin(0, 1, 2731, 2147);
  const dg = mk('line', {x1: sx(0), y1: sy(0), x2: sx(1), y2: sy(1), stroke: '#000', 'stroke-width': 3, 'stroke-dasharray': '2.5,3.5'});
  
  
  [2, 1, 0].forEach(k => {
    const p = mk('path', {d: smooth(fpr, tprs[k], sx, sy), fill: 'none', stroke: cols[k], 'stroke-width': 4});
    
    
  });
  box(prefix + '-plot-frame', x0, 2147, x1 - x0, 584, 4);
  xAxis(prefix + '-x-axis', rocTicks, rocTickLabels, sx, 2731, 9, 2772, 30);
  yAxis(prefix + '-y-axis', rocTicks, rocTickLabels, sy, x0, 9, x0 - 10, 30, false);
  legTexts.forEach((s, k) => {
    const y = 2639 + k * 33;
    const l = mk('line', {x1: lx, x2: lx + 30, y1: y, y2: y, stroke: legCols[k], 'stroke-width': 5});
    
    
    const t = tx(s, {x: lx + 42, y: y + 10, 'font-size': 27});
    
    
  });
}
roc('e', 156, 936, eFpr, [eTpr1, eTpr3, eTpr5], ['#e8262a', '#1f3c99', '#6cbf3a'], ['#e0503a', '#1f3c99', '#6cbf3a'], eLegend, 480);
roc('h', 1265, 2045, hFpr, [hTpr1, hTpr3, hTpr5], ['#e8262a', '#1f3c99', '#6cbf3a'], ['#e0503a', '#3bb5c8', '#6cbf3a'], hLegend, 1584);
</script>
</body></html>
